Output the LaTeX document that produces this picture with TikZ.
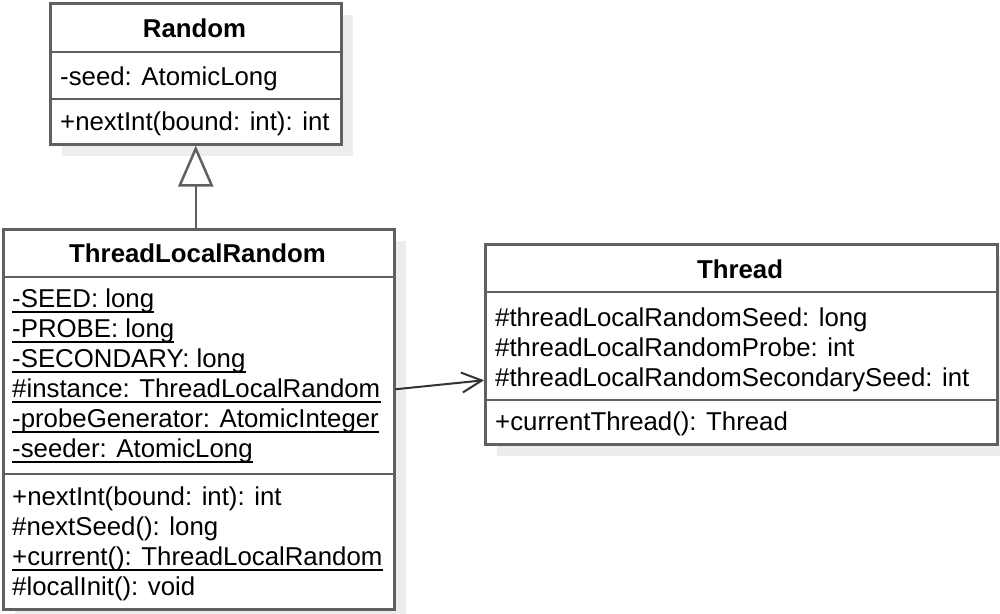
\documentclass[tikz,border=0pt]{standalone}
\usepackage{fontspec}
\setmainfont{Liberation Sans}
\usetikzlibrary{arrows.meta}
\definecolor{umlgray}{HTML}{606060}
\tikzset{
  classbox/.style={draw=umlgray, line width=2.5pt, fill=white, inner sep=0pt, anchor=north west},
  shadowbox/.style={fill=black!7, draw=none, inner sep=0pt, anchor=north west},
  divider/.style={draw=umlgray, line width=2.5pt},
  member/.style={inner sep=0pt, anchor=base west, font=\fontsize{25.8}{30}\selectfont},
  classtitle/.style={inner sep=0pt, anchor=base, font=\fontsize{25.8}{30}\selectfont\bfseries},
  uline/.style={line width=1.8pt},
}

\begin{document}
\begin{tikzpicture}[x=1pt,y=-1pt]
\useasboundingbox (0,0) rectangle (1000,613);
% shadows
\node[shadowbox, minimum width=291pt, minimum height=141pt] (randomshadow) at (62,15) {};
\node[shadowbox, minimum width=391pt, minimum height=380pt] (tlrshadow) at (15,241) {};
\node[shadowbox, minimum width=512pt, minimum height=200pt] (threadshadow) at (497,256) {};
% Random
\node[classbox, minimum width=291pt, minimum height=141pt] (random) at (49,2) {};
\draw[divider] (49,52) -- (340,52);
\draw[divider] (49,99) -- (340,99);
\node[classtitle] (randomtitle) at (194.5,37) {Random};
\node[member] (randomseed) at (60,85) {-seed: AtomicLong};
\node[member] (randomnext) at (60,130) {+nextInt(bound: int): int};
% ThreadLocalRandom
\node[classbox, minimum width=391pt, minimum height=380pt] (tlr) at (2,228) {};
\draw[divider] (2,277) -- (393,277);
\draw[divider] (2,474) -- (393,474);
\node[classtitle] (tlrtitle) at (197.5,262) {ThreadLocalRandom};
\node[member] (tlrseed) at (12,307) {-SEED: long};
\node[member] (tlrprobe) at (12,337) {-PROBE: long};
\node[member] (tlrsecondary) at (12,367) {-SECONDARY: long};
\node[member] (tlrinstance) at (12,397) {\#instance: ThreadLocalRandom};
\node[member] (tlrprobegen) at (12,427) {-probeGenerator: AtomicInteger};
\node[member] (tlrseeder) at (12,457) {-seeder: AtomicLong};
\node[member] (tlrnext) at (12,505) {+nextInt(bound: int): int};
\node[member] (tlrnextseed) at (12,535) {\#nextSeed(): long};
\node[member] (tlrcurrent) at (12,565) {+current(): ThreadLocalRandom};
\node[member] (tlrinit) at (12,595) {\#localInit(): void};
\foreach \n in {tlrseed,tlrprobe,tlrsecondary,tlrinstance,tlrprobegen,tlrseeder,tlrcurrent}
  \draw[uline] ([yshift=-5pt]\n.base west) -- ([yshift=-5pt]\n.base east);
% Thread
\node[classbox, minimum width=512pt, minimum height=200pt] (thread) at (484,243) {};
\draw[divider] (484,292) -- (996,292);
\draw[divider] (484,400) -- (996,400);
\node[classtitle] (threadtitle) at (740,278) {Thread};
\node[member] (threadseed) at (495,326) {\#threadLocalRandomSeed: long};
\node[member] (threadprobe) at (495,356) {\#threadLocalRandomProbe: int};
\node[member] (threadsecondary) at (495,386) {\#threadLocalRandomSecondarySeed: int};
\node[member] (threadcurrent) at (495,430) {+currentThread(): Thread};
% relations
\draw[divider, -{Triangle[open, fill=white, length=41pt, width=35pt]}] (tlr.north -| random.south) -- (random.south);
\coordinate (assocstart) at ([yshift=30pt]tlr.east);
\coordinate (assocend) at ([yshift=-36pt]thread.west);
\draw[line width=2pt, black!80, -{Straight Barb[length=20pt, width=20pt]}] (assocstart) -- (assocend);
\end{tikzpicture}
\end{document}
